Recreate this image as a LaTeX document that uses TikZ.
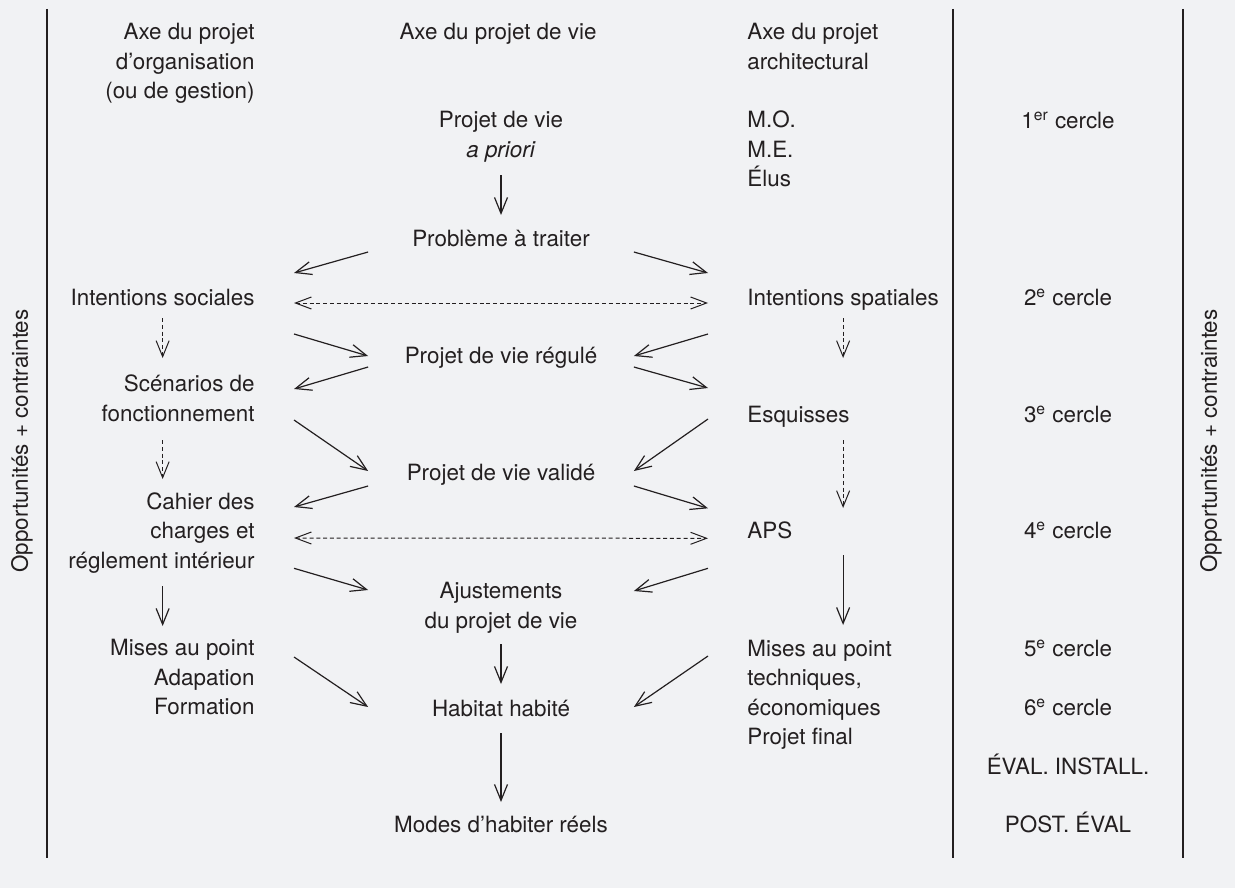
\documentclass[tikz,border=0pt]{standalone}
\usepackage{fontspec}
\setmainfont{TeX Gyre Heros}
\usetikzlibrary{arrows.meta}
\definecolor{fond}{HTML}{F1F2F4}
\definecolor{encre}{HTML}{231F20}
\tikzset{
    txt/.style={inner sep=0pt, text=encre, font=\fontsize{11.2}{14.75}\selectfont},
    gauche/.style={txt, align=right, inner xsep=19.5pt, anchor=base east},
    milieu/.style={txt, align=center, minimum width=132.5pt, anchor=base},
    droite/.style={txt, align=left, inner xsep=19.5pt, anchor=base west},
    cercle/.style={txt, anchor=base},
    fleche/.style={draw=encre, line width=0.6pt, -{Straight Barb[length=8pt,width=6.5pt]}},
    pointille/.style={fleche, line width=0.5pt, dash pattern=on 2pt off 1.4pt},
    pointille2/.style={pointille, {Straight Barb[length=8pt,width=6pt]}-{Straight Barb[length=8pt,width=6pt]}},
    trait/.style={draw=encre, line width=1pt}
}
\begin{document}
\begin{tikzpicture}[x=0.5pt, y=-0.5pt]
    \useasboundingbox[fill=fond] (0,0) rectangle (1235,888);
    \draw[trait] (47,9) -- (47,858);
    \draw[trait] (953,9) -- (953,858);
    \draw[trait] (1183,9) -- (1183,858);

    \node[txt, rotate=90] (oppl) at (22,441) {Opportunités + contraintes};
    \node[txt, rotate=90] (oppr) at (1211,441) {Opportunités + contraintes};

    \node[gauche] (hdorg) at (294,98.7) {Axe du projet\\d’organisation\\(ou de gestion)};
    \node[milieu] (hdvie) at (498,39.5) {Axe du projet de vie};
    \node[droite] (hdarch) at (708,69.5) {Axe du projet\\architectural};

    \node[milieu] (vieprio) at (501,157.3) {Projet de vie\\\textit{a priori}};
    \node[droite] (moe) at (708,186.7) {M.O.\\M.E.\\Élus};
    \node[cercle] (c1) at (1068,128.3) {1\textsuperscript{er} cercle};

    \node[milieu] (prob) at (501,246.5) {Problème à traiter};

    \node[gauche] (intsoc) at (294,305) {Intentions sociales};
    \node[droite] (intspa) at (708,305) {Intentions spatiales};
    \node[cercle] (c2) at (1068,305) {2\textsuperscript{e} cercle};

    \node[milieu] (regul) at (501,363) {Projet de vie régulé};

    \node[gauche] (scen) at (294,421) {Scénarios de\\fonctionnement};
    \node[droite] (esq) at (708,422.7) {Esquisses};
    \node[cercle] (c3) at (1068,422.5) {3\textsuperscript{e} cercle};

    \node[milieu] (valid) at (501,480) {Projet de vie validé};

    \node[gauche] (cahier) at (294,568.3) {Cahier des\\charges et\\réglement intérieur};
    \node[droite] (aps) at (708,538.3) {APS};
    \node[cercle] (c4) at (1068,538.3) {4\textsuperscript{e} cercle};

    \node[milieu] (ajust) at (501,628.3) {Ajustements\\du projet de vie};

    \node[gauche] (mapl) at (294,714.5) {Mises au point\\Adapation\\Formation};
    \node[droite] (mapr) at (708,744.5) {Mises au point\\techniques,\\économiques\\Projet final};
    \node[cercle] (c5) at (1068,656.5) {5\textsuperscript{e} cercle};

    \node[milieu] (habit) at (501,716) {Habitat habité};
    \node[cercle] (c6) at (1068,715) {6\textsuperscript{e} cercle};
    \node[cercle] (evalinst) at (1068,774) {ÉVAL. INSTALL.};

    \node[milieu] (modes) at (501,832.7) {Modes d’habiter réels};
    \node[cercle] (posteval) at (1068,832.5) {POST. ÉVAL};

    \draw[fleche] ([shift={(0,17.7)}]vieprio.base) -- ([shift={(0,-31.5)}]prob.base);
    \draw[fleche] ([shift={(0,5.5)}]prob.base west) -- ([shift={(0,-32)}]intsoc.base east);
    \draw[fleche] ([shift={(0,5.5)}]prob.base east) -- ([shift={(0,-32)}]intspa.base west);
    \draw[pointille2] ([shift={(0,-2)}]intsoc.base east) -- ([shift={(0,-2)}]intspa.base west);
    \draw[fleche] ([shift={(0,29)}]intsoc.base east) -- ([shift={(0,-7)}]regul.base west);
    \draw[fleche] ([shift={(0,29)}]intspa.base west) -- ([shift={(0,-7)}]regul.base east);
    \draw[fleche] ([shift={(0,4)}]regul.base west) -- ([shift={(0,-32)}]scen.base east);
    \draw[fleche] ([shift={(0,4)}]regul.base east) -- ([shift={(0,-34.7)}]esq.base west);
    \draw[fleche] ([shift={(0,-1)}]scen.base east) -- ([shift={(0,-9)}]valid.base west);
    \draw[fleche] ([shift={(0,-3.7)}]esq.base west) -- ([shift={(0,-9)}]valid.base east);
    \draw[fleche] ([shift={(0,6)}]valid.base west) -- ([shift={(0,-61.3)}]cahier.base east);
    \draw[fleche] ([shift={(0,6)}]valid.base east) -- ([shift={(0,-30)}]aps.base west);
    \draw[pointille2] ([shift={(0,-30.3)}]cahier.base east) -- (aps.base west);
    \draw[fleche] (cahier.base east) -- ([shift={(0,-38.3)}]ajust.base west);
    \draw[fleche] ([shift={(0,30)}]aps.base west) -- ([shift={(0,-37.3)}]ajust.base east);
    \draw[fleche] ([shift={(0,15.7)}]ajust.base) -- ([shift={(0,-32)}]habit.base);
    \draw[fleche] ([shift={(0,-57.5)}]mapl.base east) -- ([shift={(0,-9)}]habit.base west);
    \draw[fleche] ([shift={(0,-88.5)}]mapr.base west) -- ([shift={(0,-9)}]habit.base east);
    \draw[fleche] ([shift={(0,17)}]habit.base) -- ([shift={(0,-30.7)}]modes.base);

    \draw[pointille] ([shift={(0,13)}]intsoc.base) -- ([shift={(0,-63)}]intsoc.base |- scen.base);
    \draw[pointille] ([shift={(0,19)}]intsoc.base |- scen.base) -- ([shift={(0,-89.3)}]intsoc.base |- cahier.base);
    \draw[fleche] ([shift={(0,17.7)}]intsoc.base |- cahier.base) -- ([shift={(0,-88.5)}]intsoc.base |- mapl.base);
    \draw[pointille] ([shift={(0,13)}]intspa.base) -- ([shift={(0,-64.7)}]intspa.base |- esq.base);
    \draw[pointille] ([shift={(0,17.3)}]intspa.base |- esq.base) -- ([shift={(0,-30.3)}]intspa.base |- aps.base);
    \draw[fleche] ([shift={(0,16.7)}]intspa.base |- aps.base) -- ([shift={(0,-119.5)}]intspa.base |- mapr.base);
\end{tikzpicture}
\end{document}
